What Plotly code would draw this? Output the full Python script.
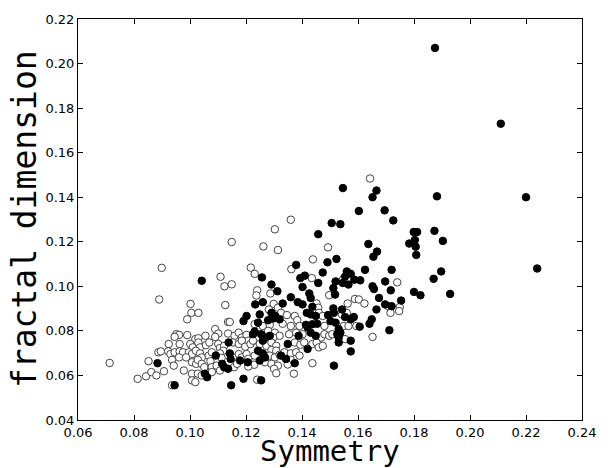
import plotly.graph_objects as go

# Malignant (filled) points: symmetry, fractal dimension
mal_sym = [0.1546,0.1603,0.1666,0.1652,0.1882,0.1695,0.1726,0.1506,0.1537,0.1458,
           0.1523,0.1491,0.1379,0.1474,0.1560,0.1574,0.1554,0.1257,0.1394,0.1410,
           0.1458,0.1520,0.1512,0.1518,0.1546,0.1566,0.1587,0.1291,0.1402,0.1312,
           0.1426,0.1431,0.1360,0.1260,0.1385,0.1402,0.1331,0.1437,0.1512,0.1543,
           0.1799,0.1811,0.1873,0.1903,0.1637,0.1783,0.1803,0.1806,0.1808,0.1655,
           0.1668,0.1625,0.1720,0.1897,0.1870,0.1608,0.1697,0.1652,0.1657,0.1717,
           0.1800,0.1823,0.1929,0.1675,0.1754,0.1697,0.1720,0.1666,0.1649,0.1641,
           0.1606,0.1712,0.1042,0.1233,0.0884,0.1202,0.1191,0.1225,0.1231,0.1138,
           0.1142,0.1145,0.1206,0.1179,0.1092,0.1115,0.1122,0.1136,0.1053,0.1061,
           0.1191,0.0945,0.1147,0.1249,0.1291,0.1305,0.1297,0.1279,0.1417,0.1431,
           0.1449,0.1493,0.1514,0.1554,0.1574,0.1585,0.1243,0.1320,0.1414,0.1420,
           0.1437,0.1454,0.1502,0.1520,0.1531,0.1537,0.1526,0.1254,0.1260,0.1285,
           0.1268,0.1388,0.1431,0.1449,0.1531,0.1531,0.1574,0.1349,0.1420,0.1243,
           0.1260,0.1268,0.1249,0.1325,0.1343,0.1574,0.1374,0.1514,0.1254,
           0.1875,0.2110,0.2200,0.2240]
mal_fd = [0.1441,0.1338,0.1430,0.1400,0.1404,0.1341,0.1296,0.1284,0.1279,0.1234,
          0.1123,0.1108,0.1096,0.1062,0.1067,0.1056,0.1044,0.1040,0.1037,0.1048,
          0.1015,0.1022,0.0992,0.0963,0.1015,0.1008,0.1030,0.1008,0.0997,0.0978,
          0.0968,0.0948,0.0951,0.0929,0.0929,0.0919,0.0923,0.0908,0.0901,0.0896,
          0.1244,0.1244,0.1249,0.1204,0.1190,0.1192,0.1208,0.1178,0.1141,0.1133,
          0.1156,0.1074,0.1074,0.1067,0.1034,0.1027,0.1022,0.1000,0.0988,0.0982,
          0.0975,0.0960,0.0966,0.0948,0.0936,0.0919,0.0911,0.0896,0.0852,0.0832,
          0.0819,0.0803,0.1025,0.0919,0.0655,0.0867,0.0844,0.0785,0.0797,0.0748,
          0.0699,0.0674,0.0659,0.0667,0.0689,0.0652,0.0637,0.0630,0.0608,0.0592,
          0.0585,0.0556,0.0556,0.0874,0.0881,0.0867,0.0856,0.0848,0.0881,0.0874,
          0.0867,0.0871,0.0881,0.0862,0.0852,0.0862,0.0837,0.0852,0.0827,0.0815,
          0.0830,0.0832,0.0844,0.0837,0.0808,0.0792,0.0785,0.0785,0.0756,0.0778,
          0.0770,0.0778,0.0792,0.0778,0.0770,0.0748,0.0756,0.0741,0.0719,0.0711,
          0.0699,0.0681,0.0667,0.0689,0.0674,0.0708,0.0655,0.0644,0.0578,
          0.2070,0.1730,0.1400,0.1080]

# Benign (open) points
ben_sym = [0.1643,0.1149,0.0899,0.1109,0.1123,0.1149,0.1217,0.1231,0.0890,0.1002,
           0.1126,0.1240,0.1237,0.1360,0.1303,0.1262,0.1314,0.1493,0.1439,0.1362,
           0.1435,0.1546,0.1287,0.1497,0.1299,0.1452,0.1458,0.1563,0.1589,0.1282,
           0.1314,0.1740,0.1603,0.1623,0.1708,0.1749,0.1716,0.1747,0.1652,0.0713,
           0.0852,0.0887,0.0813,0.0843,0.0862,0.0880,0.1005,0.1030,0.0990,0.1136,
           0.1142,0.1231,0.0951,0.0961,0.0990,0.1019,0.1030,0.1055,0.1090,0.1101,
           0.1090,0.1136,0.1159,0.1174,0.1185,0.1202,0.1208,0.0945,0.0924,0.0963,
           0.1001,0.1010,0.1030,0.1036,0.1057,0.1069,0.1101,0.1107,0.1122,0.1119,
           0.1153,0.1174,0.1185,0.1197,0.1216,0.1225,0.0896,0.0922,0.0930,0.0945,
           0.0963,0.0975,0.0996,0.1007,0.1021,0.1036,0.1042,0.1067,0.1078,0.1107,
           0.1113,0.1153,0.1174,0.1185,0.1202,0.1208,0.1231,0.0936,0.0961,0.0942,
           0.0986,0.1007,0.1022,0.1028,0.1042,0.1051,0.1073,0.1078,0.1095,0.1107,
           0.1157,0.1168,0.1229,0.1208,0.0907,0.0978,0.1007,0.1028,0.1042,0.1078,
           0.1007,0.1019,0.0936,0.1240,0.1325,0.1346,0.1374,0.1383,0.1460,0.1474,
           0.1543,0.1560,0.1260,0.1285,0.1331,0.1360,0.1391,0.1480,0.1549,0.1566,
           0.1594,0.1279,0.1303,0.1320,0.1297,0.1354,0.1379,0.1402,0.1468,0.1480,
           0.1497,0.1508,0.1554,0.1249,0.1273,0.1291,0.1308,0.1374,0.1394,0.1408,
           0.1437,0.1452,0.1460,0.1474,0.1291,0.1308,0.1285,0.1303,0.1320,0.1337,
           0.1360,0.1379,0.1391,0.1360,0.1268,0.1291,0.1314,0.1300,0.1308,0.1349,
           0.1437,0.1371]
ben_fd = [0.1484,0.1199,0.1083,0.1043,0.1000,0.1009,0.1084,0.1056,0.0941,0.0921,
          0.0916,0.0982,0.0959,0.1299,0.1256,0.1179,0.1163,0.1175,0.1121,0.1077,
          0.1037,0.1030,0.0968,0.0960,0.0921,0.0923,0.0904,0.0923,0.0943,0.0896,
          0.0904,0.1018,0.0941,0.0923,0.0911,0.0907,0.0881,0.0889,0.0773,0.0656,
          0.0664,0.0704,0.0585,0.0596,0.0615,0.0600,0.0881,0.0881,0.0852,0.0840,
          0.0840,0.0830,0.0785,0.0782,0.0781,0.0763,0.0767,0.0778,0.0808,0.0788,
          0.0773,0.0788,0.0778,0.0792,0.0770,0.0782,0.0756,0.0773,0.0741,0.0741,
          0.0741,0.0726,0.0748,0.0726,0.0736,0.0748,0.0741,0.0723,0.0733,0.0711,
          0.0748,0.0741,0.0756,0.0729,0.0741,0.0756,0.0708,0.0708,0.0696,0.0704,
          0.0708,0.0704,0.0704,0.0696,0.0711,0.0699,0.0681,0.0689,0.0704,0.0699,
          0.0679,0.0681,0.0696,0.0681,0.0696,0.0674,0.0689,0.0670,0.0681,0.0644,
          0.0681,0.0659,0.0652,0.0670,0.0652,0.0637,0.0664,0.0637,0.0644,0.0622,
          0.0637,0.0652,0.0648,0.0640,0.0619,0.0622,0.0608,0.0608,0.0600,0.0615,
          0.0578,0.0570,0.0556,0.0581,0.0881,0.0871,0.0867,0.0848,0.0881,0.0867,
          0.0874,0.0881,0.0822,0.0827,0.0832,0.0822,0.0822,0.0822,0.0822,0.0822,
          0.0822,0.0800,0.0792,0.0778,0.0770,0.0785,0.0792,0.0785,0.0770,0.0785,
          0.0778,0.0785,0.0763,0.0741,0.0733,0.0748,0.0733,0.0748,0.0738,0.0748,
          0.0741,0.0748,0.0726,0.0733,0.0714,0.0711,0.0689,0.0681,0.0693,0.0704,
          0.0699,0.0704,0.0689,0.0670,0.0659,0.0652,0.0644,0.0630,0.0610,0.0649,
          0.0655,0.0608]

x_ticks = [0.06, 0.08, 0.10, 0.12, 0.14, 0.16, 0.18, 0.20, 0.22, 0.24]
y_ticks = [0.04, 0.06, 0.08, 0.10, 0.12, 0.14, 0.16, 0.18, 0.20, 0.22]

fig = go.Figure()
fig.add_trace(go.Scatter(
    x=ben_sym, y=ben_fd, mode="markers",
    marker=dict(size=7.5, color="white", line=dict(color="#444444", width=1)),
    showlegend=False, hoverinfo="skip"))
fig.add_trace(go.Scatter(
    x=mal_sym, y=mal_fd, mode="markers",
    marker=dict(size=7.5, color="black", line=dict(color="black", width=1)),
    showlegend=False, hoverinfo="skip"))

axis_common = dict(
    showline=True, linecolor="black", linewidth=1, mirror="ticks",
    ticks="inside", ticklen=5, tickcolor="black", tickwidth=1,
    showgrid=False, zeroline=False, tickformat=".2f",
    tickfont=dict(family="DejaVu Sans", size=13, color="black"),
)
fig.update_xaxes(range=[0.06, 0.24], tickvals=x_ticks, **axis_common)
fig.update_yaxes(range=[0.04, 0.22], tickvals=y_ticks, **axis_common)

fig.update_layout(
    width=608, height=468,
    margin=dict(l=78, r=21, t=16, b=48),
    plot_bgcolor="white", paper_bgcolor="white",
    annotations=[
        dict(text="Symmetry", xref="paper", yref="paper", x=0.5, y=-0.078,
             xanchor="center", yanchor="middle", showarrow=False,
             font=dict(family="DejaVu Sans Mono", size=29, color="black")),
        dict(text="fractal dimension", xref="paper", yref="paper", x=-0.106, y=0.5,
             xanchor="center", yanchor="middle", textangle=-90, showarrow=False,
             font=dict(family="DejaVu Sans Mono", size=33, color="black")),
    ],
)

fig.write_html("out.html",
               config={"displayModeBar": False},
               post_script="document.body.style.margin='0px';document.body.style.overflow='hidden';")
